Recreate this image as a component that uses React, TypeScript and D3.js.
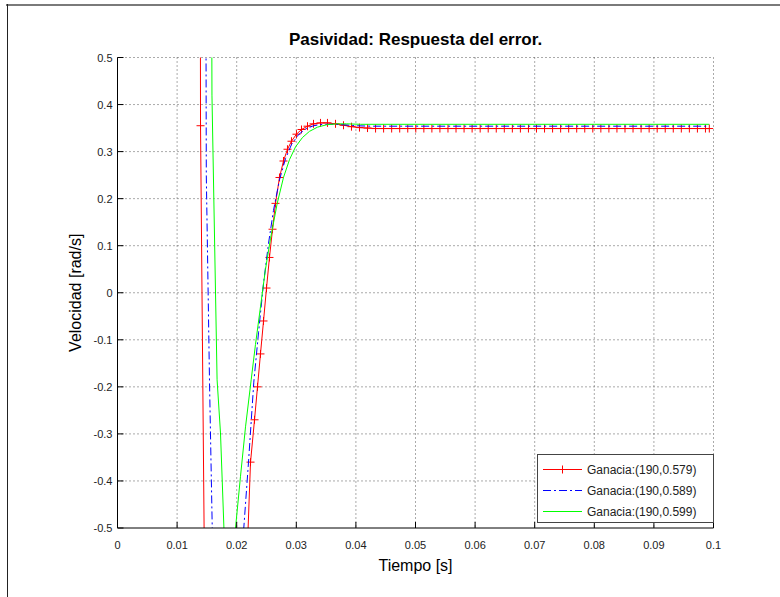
import React from 'react';
import * as d3 from 'd3';

const W = 780;
const H = 597;

const xTicks = [0, 0.01, 0.02, 0.03, 0.04, 0.05, 0.06, 0.07, 0.08, 0.09, 0.1];
const xTickLabels = ['0', '0.01', '0.02', '0.03', '0.04', '0.05', '0.06', '0.07', '0.08', '0.09', '0.1'];
const yTicks = [-0.5, -0.4, -0.3, -0.2, -0.1, 0, 0.1, 0.2, 0.3, 0.4, 0.5];
const yTickLabels = ['-0.5', '-0.4', '-0.3', '-0.2', '-0.1', '0', '0.1', '0.2', '0.3', '0.4', '0.5'];
const legendLabels = ['Ganacia:(190,0.579)', 'Ganacia:(190,0.589)', 'Ganacia:(190,0.599)'];

const titleText = 'Pasividad: Respuesta del error.';
const xLabel = 'Tiempo [s]';
const yLabel = 'Velocidad [rad/s]';

// Series 1 (red, "+" markers)
const redT = [0, 0.003, 0.006, 0.009, 0.011, 0.0125, 0.0134, 0.0138, 0.01393, 0.0146, 0.0155, 0.017, 0.0185, 0.0198, 0.0209,
  0.02232, 0.02299, 0.02349, 0.02399, 0.0245, 0.025, 0.0255, 0.02601, 0.02651, 0.02718, 0.02785, 0.02852, 0.02919,
  0.03003, 0.03087, 0.03188, 0.03289, 0.03406, 0.03523, 0.03658, 0.03792, 0.03926, 0.0406, 0.04195,
  0.0433, 0.04465, 0.046, 0.04735, 0.0487, 0.05005, 0.0514, 0.05275, 0.0541, 0.05545, 0.0568, 0.05815, 0.0595,
  0.06085, 0.0622, 0.06355, 0.0649, 0.06625, 0.0676, 0.06895, 0.0703, 0.07165, 0.073, 0.07435, 0.0757, 0.07705,
  0.0784, 0.07975, 0.0811, 0.08245, 0.0838, 0.08515, 0.0865, 0.08785, 0.0892, 0.09055, 0.0919, 0.09325, 0.0946,
  0.09595, 0.0973, 0.09865, 0.0993];
const redV = [6, 9, 8, 6, 4.5, 3.2, 2.2, 1.6, 0.355, -0.6, -2.0, -3.0, -2.6, -1.6, -0.85,
  -0.36, -0.27, -0.2, -0.13, -0.06, 0.01, 0.075, 0.135, 0.19, 0.245, 0.28, 0.305, 0.322,
  0.337, 0.347, 0.354, 0.359, 0.361, 0.361, 0.359, 0.356, 0.353, 0.351, 0.35,
  0.349, 0.349, 0.349, 0.349, 0.349, 0.349, 0.349, 0.349, 0.349, 0.349, 0.349, 0.349, 0.349,
  0.349, 0.349, 0.349, 0.349, 0.349, 0.349, 0.349, 0.349, 0.349, 0.349, 0.349, 0.349, 0.349,
  0.349, 0.349, 0.349, 0.349, 0.349, 0.349, 0.349, 0.349, 0.349, 0.349, 0.349, 0.349, 0.349,
  0.349, 0.349, 0.349, 0.349];

// Series 2 (blue, dash-dot)
const blueT = [0, 0.005, 0.01, 0.013, 0.0146, 0.0149, 0.01544, 0.016, 0.0175, 0.0192, 0.0207, 0.02119,
  0.02198, 0.02287, 0.02366, 0.0245, 0.02534, 0.02617, 0.02718, 0.02819, 0.02919, 0.03037, 0.03154,
  0.03289, 0.0344, 0.03607, 0.03792, 0.03993, 0.04245, 0.05, 0.06, 0.07, 0.08, 0.09, 0.0993];
const blueV = [7, 10, 7, 4, 2.0, 0.25, -0.19, -0.57, -1.3, -1.2, -0.65, -0.5,
  -0.36, -0.19, -0.085, 0.02, 0.105, 0.175, 0.24, 0.285, 0.315, 0.336, 0.348,
  0.355, 0.358, 0.358, 0.357, 0.355, 0.354, 0.354, 0.354, 0.354, 0.354, 0.354, 0.354];

// Series 3 (green, solid)
const greenT = [0, 0.005, 0.01, 0.014, 0.0156, 0.01585, 0.01671, 0.01728, 0.018, 0.0186, 0.0192, 0.0198,
  0.02064, 0.02148, 0.02243, 0.02315, 0.02399, 0.02483, 0.02567, 0.0268, 0.02785, 0.02886, 0.02987,
  0.03104, 0.03221, 0.03356, 0.03507, 0.03674, 0.03842, 0.04077, 0.05, 0.06, 0.07, 0.08, 0.09, 0.0993];
const greenV = [6, 9, 7, 3.5, 1.5, 0.42, -0.185, -0.298, -0.55, -0.74, -0.72, -0.5,
  -0.39, -0.285, -0.185, -0.11, -0.03, 0.05, 0.115, 0.19, 0.245, 0.283, 0.31,
  0.33, 0.343, 0.352, 0.357, 0.359, 0.359, 0.358, 0.358, 0.358, 0.358, 0.358, 0.358, 0.358];

const colors = ['#ff0000', '#0000ff', '#00ff00'];

const L = 117.5, R = 713.5, T = 57.5, B = 528;

export default function App() {
  const x = d3.scaleLinear().domain([0, 0.1]).range([L, R]);
  const y = d3.scaleLinear().domain([-0.5, 0.5]).range([B, T]);
  const line = d3.line<[number, number]>().x(d => x(d[0])).y(d => y(d[1]));
  const zip = (ts: number[], vs: number[]) => ts.map((t, i) => [t, vs[i]] as [number, number]);
  const red = zip(redT, redV);
  const blue = zip(blueT, blueV);
  const green = zip(greenT, greenV);
  const font = '"Liberation Sans", Arial, Helvetica, sans-serif';
  const legX = 537.5, legY = 454.5, legW = 176, legH = 68;
  const legRows = [469, 490, 511];

  return (
    <div style={{ position: 'absolute', left: 0, top: 0, width: W, height: H, background: '#fff' }}>
      <svg width={W} height={H} style={{ display: 'block' }}>
        <rect x={0} y={0} width={W} height={H} fill="#fff" />
        {/* window frame */}
        <line x1={6} x2={W} y1={5} y2={5} stroke="#7a7a7a" strokeWidth={2} />
        <line x1={7.5} x2={7.5} y1={4} y2={H} stroke="#222" strokeWidth={1} />
        <defs>
          <clipPath id="plotclip">
            <rect x={L} y={T} width={R - L} height={B - T} />
          </clipPath>
        </defs>
        {/* grid */}
        {xTicks.slice(1).map((t, i) => (
          <line key={'gx' + i} x1={x(t)} x2={x(t)} y1={T} y2={B} stroke="#555" strokeWidth={1} strokeDasharray="1,3" />
        ))}
        {yTicks.slice(1).map((t, i) => (
          <line key={'gy' + i} x1={L} x2={R} y1={y(t)} y2={y(t)} stroke="#555" strokeWidth={1} strokeDasharray="1,3" />
        ))}
        {/* data */}
        <g clipPath="url(#plotclip)">
          <path d={line(red) || ''} fill="none" stroke={colors[0]} strokeWidth={1} />
          {red.map((d, i) => (
            <path key={'m' + i} d={`M${x(d[0]) - 4},${y(d[1])}h8M${x(d[0])},${y(d[1]) - 4}v8`} stroke={colors[0]} strokeWidth={1} fill="none" />
          ))}
          <path d={line(blue) || ''} fill="none" stroke={colors[1]} strokeWidth={1} strokeDasharray="8,3,2,3" />
          <path d={line(green) || ''} fill="none" stroke={colors[2]} strokeWidth={1} />
        </g>
        {/* axes */}
        <line x1={L} x2={R} y1={B} y2={B} stroke="#000" strokeWidth={1} />
        <line x1={L} x2={L} y1={T} y2={B} stroke="#000" strokeWidth={1} />
        {xTicks.map((t, i) => (
          <g key={'xt' + i}>
            <line x1={x(t)} x2={x(t)} y1={B} y2={B - 6} stroke="#000" />
            <text x={x(t)} y={B + 21} textAnchor="middle" fontFamily={font} fontSize={11} fill="#222">{xTickLabels[i]}</text>
          </g>
        ))}
        {yTicks.map((t, i) => (
          <g key={'yt' + i}>
            <line x1={L} x2={L + 6} y1={y(t)} y2={y(t)} stroke="#000" />
            <text x={L - 5} y={y(t) + 4} textAnchor="end" fontFamily={font} fontSize={11} fill="#222">{yTickLabels[i]}</text>
          </g>
        ))}
        {/* title & labels */}
        <text x={(L + R) / 2} y={45} textAnchor="middle" fontFamily={font} fontWeight="bold" fontSize={17} fill="#000">{titleText}</text>
        <text x={(L + R) / 2} y={571} textAnchor="middle" fontFamily={font} fontSize={16} fill="#000">{xLabel}</text>
        <text transform={`translate(81,${(T + B) / 2}) rotate(-90)`} textAnchor="middle" fontFamily={font} fontSize={16} fill="#000">{yLabel}</text>
        {/* legend */}
        <rect x={legX} y={legY} width={legW} height={legH} fill="#fff" stroke="#444" strokeWidth={1} />
        {legendLabels.map((lab, i) => (
          <g key={'lg' + i}>
            <line x1={543} x2={582} y1={legRows[i] + 0.5} y2={legRows[i] + 0.5} stroke={colors[i]} strokeWidth={1}
              strokeDasharray={i === 1 ? '8,3,2,3' : undefined} />
            {i === 0 && (
              <path d={`M${558.5},${legRows[i] + 0.5}h8M${562.5},${legRows[i] - 3.5}v8`} stroke={colors[0]} fill="none" />
            )}
            <text x={587} y={legRows[i] + 4.5} fontFamily={font} fontSize={12} fill="#222">{lab}</text>
          </g>
        ))}
      </svg>
    </div>
  );
}
